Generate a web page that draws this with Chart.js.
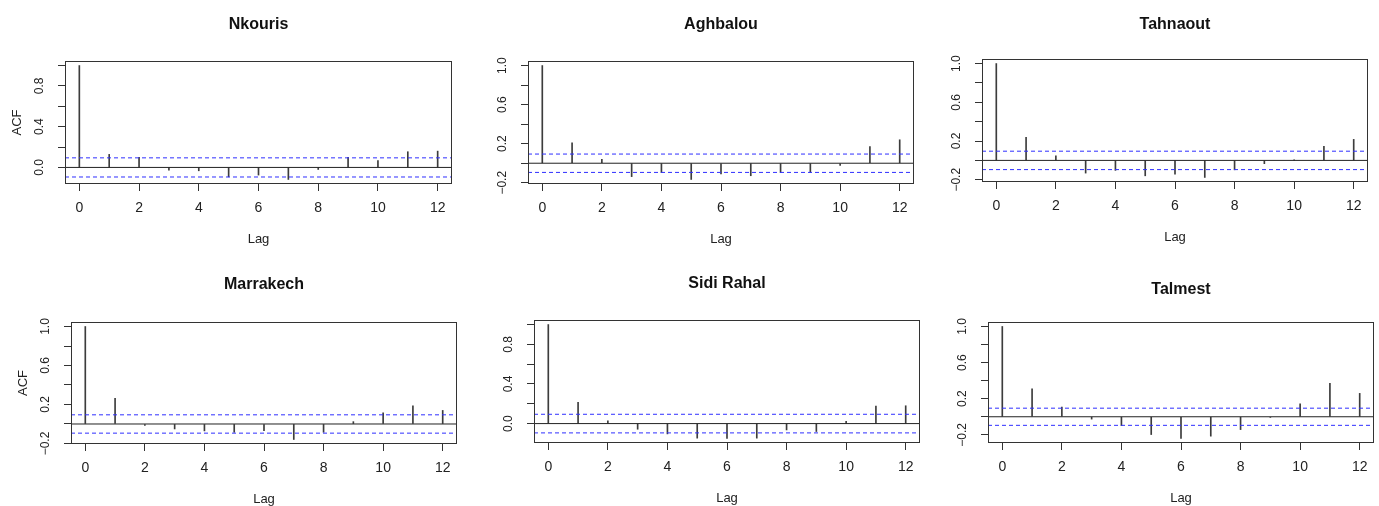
<!DOCTYPE html>
<html>
<head>
<meta charset="utf-8">
<script src="https://cdn.jsdelivr.net/npm/chart.js@4.4.1/dist/chart.umd.min.js"></script>
<style>
html, body { margin: 0; padding: 0; background: #fff; }
body { width: 1379px; height: 506px; position: relative; overflow: hidden; }
.panel { position: absolute; }
</style>
</head>
<body>
<script>
// ACF values, lags 0..12
const lags = [0, 1, 2, 3, 4, 5, 6, 7, 8, 9, 10, 11, 12];
const stations = ['Nkouris', 'Aghbalou', 'Tahnaout', 'Marrakech', 'Sidi Rahal', 'Talmest'];

const acfNkouris   = [1.0, 0.128, 0.098, -0.026, -0.033, -0.092, -0.075, -0.118, -0.020, 0.098, 0.066, 0.154, 0.160];
const acfAghbalou  = [1.0, 0.208, 0.040, -0.137, -0.096, -0.166, -0.110, -0.128, -0.096, -0.094, -0.022, 0.170, 0.240];
const acfTahnaout  = [1.0, 0.238, 0.048, -0.131, -0.103, -0.159, -0.141, -0.176, -0.097, -0.034, 0.003, 0.145, 0.217];
const acfMarrakech = [1.0, 0.264, -0.014, -0.051, -0.071, -0.085, -0.068, -0.159, -0.085, 0.024, 0.115, 0.186, 0.139];
const acfSidiRahal = [1.0, 0.214, 0.027, -0.057, -0.104, -0.147, -0.150, -0.147, -0.064, -0.080, 0.023, 0.177, 0.180];
const acfTalmest   = [1.0, 0.310, 0.106, -0.026, -0.099, -0.197, -0.241, -0.215, -0.142, -0.007, 0.142, 0.369, 0.259];
const acfSeries = [acfNkouris, acfAghbalou, acfTahnaout, acfMarrakech, acfSidiRahal, acfTalmest];

// 95% bounds (blue dashed lines)
const confLimits = [0.094, 0.094, 0.095, 0.094, 0.094, 0.095];

const xTicks = [0, 2, 4, 6, 8, 10, 12];
const yTicksShort = [0.0, 0.2, 0.4, 0.6, 0.8, 1.0];
const yLabelsShort = ['0.0', '0.4', '0.8'];
const yTicksLong = [-0.2, 0.0, 0.2, 0.4, 0.6, 0.8, 1.0];
const yLabelsLong = ['\u22120.2', '0.2', '0.6', '1.0'];

// layout of each panel on the page (plot box in page pixels)
const boxes = [
    { left: 65,  right: 452,  top: 61,  bottom: 184, titleY: 24.5, rowTop: 0 },
    { left: 528, right: 914,  top: 61,  bottom: 184, titleY: 24.5, rowTop: 0 },
    { left: 982, right: 1368, top: 59,  bottom: 182, titleY: 25,   rowTop: 0 },
    { left: 71,  right: 457,  top: 322, bottom: 444, titleY: 285,  rowTop: 258 },
    { left: 534, right: 920,  top: 320, bottom: 443, titleY: 284,  rowTop: 258 },
    { left: 988, right: 1374, top: 322, bottom: 443, titleY: 290,  rowTop: 258 },
];

const FONT = '"Liberation Sans", Arial, Helvetica, sans-serif';
Chart.defaults.font.family = FONT;

const Y_AXIS_W = 65;
const X_AXIS_H = 62;
const RIGHT_PAD = 4;

const fmt = v => (v < -1e-9 ? '\u2212' : '') + Math.abs(v).toFixed(1);

const measure = document.createElement('canvas').getContext('2d');
measure.font = '12px ' + FONT;

const boxPlugin = {
    id: 'plotBox',
    afterDraw(chart) {
        const a = chart.chartArea;
        const ctx = chart.ctx;
        ctx.save();
        ctx.strokeStyle = '#333';
        ctx.lineWidth = 1;
        ctx.strokeRect(Math.round(a.left) + 0.5, Math.round(a.top) + 0.5,
            Math.round(a.right - a.left) - 1, Math.round(a.bottom - a.top) - 1);
        ctx.restore();
    }
};

stations.forEach((name, i) => {
    const b = boxes[i];
    const acf = acfSeries[i];
    const conf = confLimits[i];
    const yTicks = i === 0 || i === 4 ? yTicksShort : yTicksLong;
    const yLabels = i === 0 || i === 4 ? yLabelsShort : yLabelsLong;

    const div = document.createElement('div');
    div.className = 'panel';
    const cl = b.left - Y_AXIS_W;
    div.style.left = cl + 'px';
    div.style.top = b.rowTop + 'px';
    div.style.width = (b.right + RIGHT_PAD - cl) + 'px';
    div.style.height = (b.bottom + X_AXIS_H - b.rowTop) + 'px';
    const canvas = document.createElement('canvas');
    div.appendChild(canvas);
    document.body.appendChild(div);

    // R style axis limits: data range stretched by 4%
    const lo = Math.min(...acf, -conf);
    const hi = Math.max(...acf, conf);
    const yPad = 0.04 * (hi - lo);
    const xPad = 0.04 * (lags[lags.length - 1] - lags[0]);
    const xMin = lags[0] - xPad;
    const xMax = lags[lags.length - 1] + xPad;

    const widest = Math.max(...yLabels.map(t => measure.measureText(t).width));
    const tickPad = 25 - 7 - widest / 2;

    const titleTop = b.titleY - b.rowTop - 9.6;
    const titleBottom = b.top - b.titleY - 9.6;

    new Chart(canvas, {
        type: 'bar',
        data: {
            datasets: [
                {
                    type: 'line',
                    data: [{ x: xMin, y: 0 }, { x: xMax, y: 0 }],
                    borderColor: '#222',
                    borderWidth: 1,
                    pointRadius: 0,
                },
                {
                    type: 'line',
                    data: [{ x: xMin, y: conf }, { x: xMax, y: conf }],
                    borderColor: '#2f2fff',
                    borderWidth: 1,
                    borderDash: [4, 3],
                    pointRadius: 0,
                },
                {
                    type: 'line',
                    data: [{ x: xMin, y: -conf }, { x: xMax, y: -conf }],
                    borderColor: '#2f2fff',
                    borderWidth: 1,
                    borderDash: [4, 3],
                    pointRadius: 0,
                },
                {
                    type: 'bar',
                    data: lags.map((l, k) => ({ x: l, y: acf[k] })),
                    backgroundColor: '#3c3c3c',
                    barThickness: 1,
                },
            ],
        },
        options: {
            responsive: true,
            maintainAspectRatio: false,
            animation: false,
            layout: { padding: { left: 0, right: RIGHT_PAD, top: 0, bottom: 0 } },
            plugins: {
                legend: { display: false },
                tooltip: { enabled: false },
                title: {
                    display: true,
                    text: name,
                    fullSize: false,
                    color: '#111',
                    font: { size: 16, weight: 'bold' },
                    padding: { top: titleTop, bottom: titleBottom },
                },
            },
            scales: {
                x: {
                    type: 'linear',
                    min: xMin,
                    max: xMax,
                    offset: false,
                    afterBuildTicks: s => { s.ticks = xTicks.map(v => ({ value: v })); },
                    afterFit: s => { s.height = X_AXIS_H; s.paddingLeft = 0; s.paddingRight = 0; },
                    grid: { drawOnChartArea: false, drawTicks: true, tickLength: 7, color: '#333', offset: false },
                    border: { display: false },
                    ticks: {
                        font: { size: 14 },
                        color: '#222',
                        padding: 9,
                        maxRotation: 0,
                        autoSkip: false,
                        callback: v => String(v),
                    },
                    title: {
                        display: true,
                        text: 'Lag',
                        color: '#222',
                        font: { size: 13 },
                        padding: { top: 0, bottom: -1.5 },
                    },
                },
                y: {
                    min: lo - yPad,
                    max: hi + yPad,
                    afterBuildTicks: s => { s.ticks = yTicks.map(v => ({ value: v })); },
                    afterFit: s => { s.width = Y_AXIS_W; s.paddingTop = 0; s.paddingBottom = 0; },
                    grid: { drawOnChartArea: false, drawTicks: true, tickLength: 7, color: '#333' },
                    border: { display: false },
                    ticks: {
                        font: { size: 12 },
                        color: '#222',
                        minRotation: 90,
                        maxRotation: 90,
                        crossAlign: 'center',
                        padding: tickPad,
                        autoSkip: false,
                        callback: v => {
                            const t = fmt(v);
                            return yLabels.includes(t) ? t : '';
                        },
                    },
                    title: {
                        display: i === 0 || i === 3,
                        text: 'ACF',
                        color: '#222',
                        font: { size: 13 },
                        padding: { top: 10, bottom: 0 },
                    },
                },
            },
        },
        plugins: [boxPlugin],
    });
});
</script>
</body>
</html>
